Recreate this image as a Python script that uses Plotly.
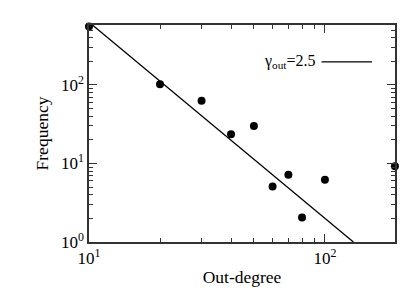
import plotly.graph_objects as go

# data
degree = [10, 20, 30, 40, 50, 60, 70, 80, 100, 198]
frequency = [553, 102, 63, 23.5, 30, 5.1, 7.2, 2.05, 6.2, 9.2]

# power-law fit line, gamma_out = 2.5 (end points)
fit_x = [10, 132]
fit_y = [630, 1]

x_tickvals = [10, 100]
x_ticktext = ["10<sup>1</sup>", "10<sup>2</sup>"]
y_tickvals = [1, 10, 100]
y_ticktext = ["10<sup>0</sup>", "10<sup>1</sup>", "10<sup>2</sup>"]

font = "Liberation Serif, Times New Roman, serif"

fig = go.Figure()
fig.add_trace(go.Scatter(x=fit_x, y=fit_y, mode="lines",
                         line=dict(color="black", width=1.3), showlegend=False))
fig.add_trace(go.Scatter(x=degree, y=frequency, mode="markers",
                         marker=dict(color="black", size=8), cliponaxis=False,
                         showlegend=False))

axis_common = dict(
    type="log", showgrid=False, zeroline=False, showline=True, linecolor="#333",
    linewidth=1.5, mirror="allticks", ticks="inside", ticklen=8, tickwidth=1,
    tickcolor="#333", automargin=False,
    tickfont=dict(family=font, size=17, color="black"),
    minor=dict(ticks="inside", ticklen=4, tickcolor="#333", tickwidth=1, showgrid=False,
               tickvals=[2, 3, 4, 5, 6, 7, 8, 9, 20, 30, 40, 50, 60, 70, 80, 90,
                         200, 300, 400, 500, 600, 700, 800, 900]),
)

fig.update_xaxes(range=[1, 2.297], tickvals=x_tickvals, ticktext=x_ticktext,
                 title=dict(text="Out-degree", font=dict(family=font, size=17.5, color="black"), standoff=4),
                 **axis_common)
fig.update_yaxes(range=[0, 2.763], tickvals=y_tickvals, ticktext=y_ticktext,
                 title=dict(text="Frequency", font=dict(family=font, size=17.5, color="black"), standoff=8),
                 **axis_common)

fig.add_annotation(xref="paper", yref="paper", x=0.745, y=0.832, xanchor="right", yanchor="middle",
                   text="γ<sub>out</sub>=2.5", showarrow=False,
                   font=dict(family=font, size=16, color="black"))
fig.add_shape(type="line", xref="paper", yref="paper", x0=0.76, x1=0.925, y0=0.83, y1=0.83,
              line=dict(color="black", width=1.2))

# page body has an 8px margin, so the figure is sized to fit inside 410x300
fig.update_layout(width=394, height=284, margin=dict(l=81, r=7, t=17, b=50),
                  plot_bgcolor="white", paper_bgcolor="white")

fig.write_html("out.html")
